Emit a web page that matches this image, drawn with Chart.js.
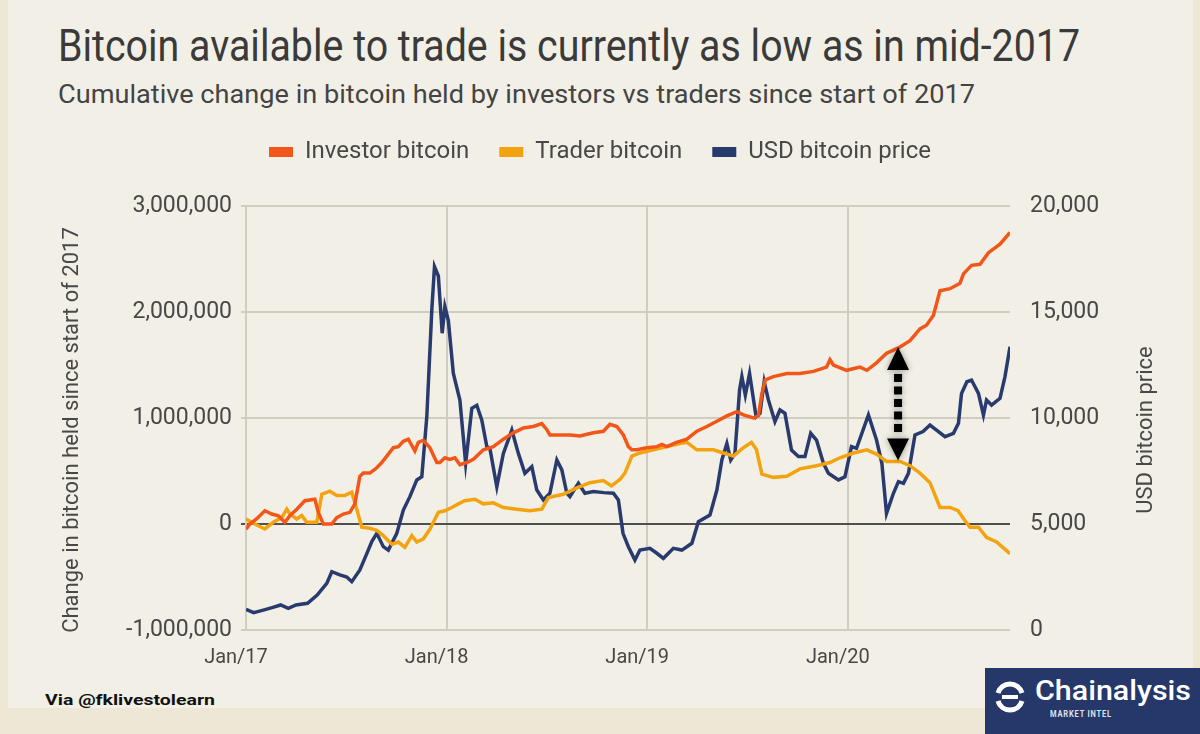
<!DOCTYPE html>
<html>
<head>
<meta charset="utf-8">
<script src="https://cdn.jsdelivr.net/npm/chart.js@4.4.0/dist/chart.umd.min.js"></script>
<style>
  html, body { margin: 0; padding: 0; }
  body { width: 1200px; height: 734px; background: #efe7d5; position: relative; overflow: hidden; font-family: Roboto, sans-serif; }
  #panel { position: absolute; left: 8px; top: 0; width: 1185px; height: 708px; background: #f2f0e6; }
  .fit { position: absolute; white-space: nowrap; display: inline-block; transform-origin: 0 0; }
  #title { left: 58px; top: 24px; font-size: 44px; line-height: 44px; color: #3a3a3a; }
  #subtitle { left: 58px; top: 82px; font-size: 25px; line-height: 25px; color: #444; }
  #via { left: 45px; top: 693px; font-size: 15px; line-height: 15px; font-weight: 700; color: #111; }
  #chart { position: absolute; left: 0; top: 110px; width: 1200px; height: 580px; }
  #logo { position: absolute; left: 985px; top: 668px; width: 215px; height: 66px; background: #26386a; }
  #logo svg { position: absolute; left: 8px; top: 12px; }
  #logoName { left: 50px; top: 9px; font-size: 28px; line-height: 28px; font-weight: 500; color: #fff; }
  #logoSub { left: 65px; top: 42px; font-size: 9px; line-height: 9px; font-weight: 700; color: #dfe3ee; letter-spacing: 1px; }
</style>
</head>
<body>
<div id="panel"></div>
<span id="title" class="fit">Bitcoin available to trade is currently as low as in mid-2017</span>
<span id="subtitle" class="fit">Cumulative change in bitcoin held by investors vs traders since start of 2017</span>
<canvas id="chart" width="1200" height="580"></canvas>
<span id="via" class="fit">Via @fklivestolearn</span>
<div id="logo">
  <svg width="34" height="34" viewBox="0 0 34 34">
    <g fill="none" stroke="#fff" stroke-width="5">
      <path d="M5 13 A12.5 12.5 0 0 1 29 13"/>
      <path d="M29 21 A12.5 12.5 0 0 1 5 21"/>
    </g>
    <path d="M9 17 L25 17" stroke="#fff" stroke-width="4"/>
  </svg>
  <span id="logoName" class="fit">Chainalysis</span>
  <span id="logoSub" class="fit">MARKET INTEL</span>
</div>
<script>
// x positions are weeks since 1 Jan 2017
const yearWeeks = [0, 52.14, 104.29, 156.43];
const yearLabels = ['Jan/17', 'Jan/18', 'Jan/19', 'Jan/20'];
const lastWeek = 198.6;

const investorWeeks = [
  0, 1, 2.8, 4.9, 6.7, 8.4, 10.1, 11.4, 13.2, 15.3,
  17.9, 18.8, 20.1, 22.3, 23.6, 25.3, 27, 28.3, 29.6, 30.5,
  32.2, 34, 35.3, 36.6, 38.3, 39.6, 40.9, 42.2, 43.9, 44.8,
  46.1, 47.8, 49.6, 50.4, 51.7, 53, 54.3, 55.6, 57.4, 59.1,
  61.7, 64.3, 66.9, 69.5, 72.1, 74.7, 76.9, 78.2, 79, 81.6,
  84.2, 86.8, 90.3, 92.9, 94.6, 96.4, 98.1, 99.4, 100.3, 101.6,
  104.2, 106.8, 108.1, 109.4, 111.9, 114.6, 117.2, 119.8, 122.4, 125,
  127.6, 129.3, 131.9, 133.2, 134.1, 135, 137.1, 140.6, 144, 147.5,
  150.9, 151.8, 152.7, 156.1, 159.6, 161.4, 163.9, 166.5, 168.3, 170,
  172.6, 175.2, 176.9, 178.7, 180.4, 183, 185.6, 186.5, 188.6, 190.8,
  193, 196, 198.6
];
const investorBtc = [
  -50000, 0, 50000, 125000, 94000, 78000, 16000, 78000, 140000, 220000,
  234000, 110000, 0, 0, 60000, 94000, 110000, 190000, 450000, 480000,
  480000, 530000, 580000, 640000, 720000, 730000, 780000, 800000, 690000, 770000,
  790000, 720000, 580000, 580000, 625000, 610000, 625000, 560000, 580000, 610000,
  700000, 730000, 800000, 860000, 906000, 920000, 947000, 890000, 840000, 840000,
  840000, 830000, 860000, 875000, 940000, 920000, 840000, 730000, 700000, 700000,
  720000, 730000, 750000, 730000, 770000, 800000, 875000, 920000, 970000, 1020000,
  1060000, 1030000, 1000000, 1020000, 1230000, 1360000, 1390000, 1420000, 1420000, 1440000,
  1480000, 1550000, 1500000, 1450000, 1480000, 1450000, 1520000, 1610000, 1640000, 1670000,
  1730000, 1840000, 1875000, 1970000, 2200000, 2220000, 2270000, 2360000, 2440000, 2450000,
  2560000, 2640000, 2750000
];

const traderWeeks = [
  0, 2.3, 4.9, 7.1, 9.3, 10.6, 11.4, 13.2, 14.5, 15.8,
  18.4, 19.7, 21.8, 23.6, 25.7, 27.5, 28.8, 30.1, 32.2, 34,
  35.7, 37.9, 39.6, 41.3, 43.1, 44.4, 46.1, 47.8, 50, 51.7,
  53.5, 55.2, 56.9, 59.5, 61.7, 64.3, 66.9, 70.4, 73.8, 76.9,
  78.6, 82.5, 86, 89.4, 92.9, 95, 97.2, 98.5, 100.3, 102.4,
  105.9, 109.4, 112.8, 114.6, 117.2, 121.5, 124.1, 126.7, 129.3, 131.4,
  132.7, 134.1, 137.1, 140.6, 144, 148.3, 151.8, 154.4, 157.9, 161.4,
  163.9, 166.5, 170, 172.6, 175.2, 177.8, 180.4, 183, 185.1, 186.9,
  188.2, 190.4, 192.5, 195.1, 198.6
];
const traderBtc = [
  47000, 0, -47000, 16000, 60000, 140000, 94000, 47000, 80000, 16000,
  16000, 280000, 310000, 270000, 270000, 300000, 140000, -30000, -40000, -60000,
  -110000, -190000, -170000, -220000, -110000, -170000, -140000, -50000, 110000, 125000,
  156000, 190000, 220000, 234000, 190000, 200000, 156000, 140000, 125000, 140000,
  250000, 280000, 340000, 390000, 410000, 360000, 420000, 480000, 640000, 670000,
  700000, 730000, 760000, 770000, 700000, 700000, 670000, 640000, 720000, 770000,
  700000, 470000, 440000, 450000, 520000, 550000, 580000, 625000, 670000, 700000,
  660000, 590000, 590000, 550000, 480000, 390000, 156000, 156000, 125000, 30000,
  -30000, -30000, -125000, -170000, -280000
];

const priceWeeks = [
  0, 2, 4.5, 7, 9, 11, 13, 16, 18.5, 21,
  22.3, 24.4, 26.2, 27.5, 29.6, 31.4, 32.7, 34, 35.7, 37,
  39.2, 40.9, 42.6, 44.4, 45.7, 47, 48.3, 49, 50, 51,
  51.7, 52.6, 53.9, 55.6, 57.1, 58.7, 60, 61.3, 62.6, 63.4,
  65.2, 66.9, 69.1, 70.8, 72.5, 74.3, 75.6, 77.3, 79, 80.8,
  82.1, 83.4, 84.2, 86.4, 88.1, 90.3, 93, 95.5, 96.8, 98,
  99.4, 101.1, 102.4, 105, 106.8, 108.5, 111.1, 113.3, 115.9, 117.6,
  120.6, 122.4, 123.7, 125, 126, 127.1, 128.3, 128.9, 129.8, 130.9,
  132.6, 133.6, 134.7, 135.8, 137.5, 138.8, 140.1, 141.8, 143.6, 145.3,
  146.8, 148.3, 150.1, 151.4, 154, 155.7, 157.4, 158.7, 161.8, 163.9,
  165.3, 166.5, 168.3, 169.6, 170.9, 172.2, 173.9, 176, 177.8, 179.5,
  181.7, 183.9, 185.2, 186, 187.4, 188.6, 190.4, 191.7, 192.5, 193.8,
  196, 197.3, 198.6
];
const priceUsd = [
  970, 820, 940, 1070, 1180, 1020, 1180, 1260, 1650, 2200,
  2750, 2600, 2500, 2280, 2830, 3600, 4170, 4560, 3930, 3770,
  4560, 5660, 6290, 7080, 7230, 10060, 15100, 17140, 16700, 14000,
  15250, 14600, 12100, 10850, 7860, 10460, 10600, 9900, 8650, 8570,
  6760, 8330, 9430, 8330, 7390, 7700, 6600, 6130, 6450, 8020,
  7550, 6450, 6290, 6920, 6450, 6530, 6480, 6450, 6130, 4560,
  3930, 3300, 3770, 3850, 3620, 3380, 3850, 3770, 4090, 5110,
  5420, 6600, 8020, 8800, 8020, 8330, 11320, 11950, 11080, 12100,
  10060, 10220, 11710, 10850, 9830, 10380, 10220, 8490, 8180, 8180,
  9280, 8960, 7860, 7390, 7080, 7230, 8650, 8570, 10140, 8960,
  7860, 5500, 6450, 7000, 6920, 7390, 9200, 9360, 9670, 9430,
  9120, 9280, 9750, 11160, 11710, 11790, 11160, 10140, 10850, 10610,
  10930, 11950, 13360
];

// annotation arrow (week, left-axis values)
const arrowWeek = 169.5;
const arrowTop = 1670000;
const arrowBottom = 600000;

const GRID = '#cfccc1';
const TEXT = '#484848';

function points(xs, ys) {
  return xs.map((x, i) => ({ x: x, y: ys[i] }));
}

function fitWidth(id, target) {
  const el = document.getElementById(id);
  const w = el.getBoundingClientRect().width;
  el.style.transform = 'scaleX(' + (target / w) + ')';
}
fitWidth('title', 1022);
fitWidth('subtitle', 917);
fitWidth('via', 170);
fitWidth('logoName', 156);
fitWidth('logoSub', 62);

const extras = {
  id: 'extras',
  beforeUpdate(chart) {
    const legend = chart.legend;
    if (legend && !legend._patched) {
      const fit = legend.fit;
      legend.fit = function () {
        fit.call(this);
        this.height += 32;
      };
      legend._patched = true;
    }
  },
  afterDatasetsDraw(chart) {
    const ctx = chart.ctx;
    const x = chart.scales.x.getPixelForValue(arrowWeek);
    const yTop = chart.scales.y.getPixelForValue(arrowTop);
    const yBot = chart.scales.y.getPixelForValue(arrowBottom);
    ctx.save();
    ctx.shadowColor = 'rgba(0,0,0,0.4)';
    ctx.shadowBlur = 6;
    ctx.fillStyle = '#000';
    ctx.beginPath();
    ctx.moveTo(x, yTop);
    ctx.lineTo(x + 11, yTop + 23);
    ctx.lineTo(x - 11, yTop + 23);
    ctx.closePath();
    ctx.fill();
    ctx.beginPath();
    ctx.moveTo(x, yBot);
    ctx.lineTo(x + 11, yBot - 22);
    ctx.lineTo(x - 11, yBot - 22);
    ctx.closePath();
    ctx.fill();
    for (let y = yTop + 27; y + 8 <= yBot - 24; y += 12.5) {
      ctx.fillRect(x - 4, y, 8, 8);
    }
    ctx.restore();
  },
  afterDraw(chart) {
    const ctx = chart.ctx;
    ctx.save();
    ctx.font = '22px Roboto';
    ctx.fillStyle = TEXT;
    ctx.textAlign = 'center';
    ctx.textBaseline = 'middle';
    [[72, 'Change in bitcoin held since start of 2017'], [1146, 'USD bitcoin price']].forEach(([x, text]) => {
      ctx.save();
      ctx.translate(x, 320);
      ctx.rotate(-Math.PI / 2);
      ctx.fillText(text, 0, 0);
      ctx.restore();
    });
    ctx.restore();
  }
};

new Chart(document.getElementById('chart'), {
  type: 'line',
  data: {
    datasets: [
      {
        label: 'Investor bitcoin',
        data: points(investorWeeks, investorBtc),
        borderColor: '#f25619',
        backgroundColor: '#f25619',
        yAxisID: 'y'
      },
      {
        label: 'Trader bitcoin',
        data: points(traderWeeks, traderBtc),
        borderColor: '#f2a30f',
        backgroundColor: '#f2a30f',
        yAxisID: 'y'
      },
      {
        label: 'USD bitcoin price',
        data: points(priceWeeks, priceUsd),
        borderColor: '#283a6e',
        backgroundColor: '#283a6e',
        yAxisID: 'y1'
      }
    ]
  },
  options: {
    responsive: false,
    animation: false,
    layout: { padding: { top: 0, left: 0, right: 0, bottom: 0 } },
    elements: {
      line: { borderWidth: 3.5, tension: 0 },
      point: { radius: 0 }
    },
    plugins: {
      tooltip: { enabled: false },
      legend: {
        position: 'top',
        labels: {
          boxWidth: 24,
          boxHeight: 10,
          padding: 30,
          color: TEXT,
          font: { family: 'Roboto', size: 24 },
          generateLabels(chart) {
            const items = Chart.defaults.plugins.legend.labels.generateLabels(chart);
            items.forEach(it => { it.lineWidth = 0; it.fillStyle = it.strokeStyle; });
            return items;
          }
        }
      }
    },
    scales: {
      x: {
        type: 'linear',
        min: 0,
        max: lastWeek,
        afterBuildTicks(scale) {
          scale.ticks = yearWeeks.map(v => ({ value: v }));
        },
        afterFit(scale) { scale.height = 60; },
        grid: { color: GRID, lineWidth: 2, drawTicks: false },
        border: { display: false },
        ticks: {
          autoSkip: false,
          maxRotation: 0,
          padding: 16,
          labelOffset: -10,
          color: TEXT,
          font: { family: 'Roboto', size: 20 },
          callback: (value, index) => yearLabels[index]
        }
      },
      y: {
        position: 'left',
        min: -1000000,
        max: 3000000,
        afterFit(scale) { scale.width = 246; },
        grid: {
          lineWidth: 2,
          tickLength: 5,
          color: ctx => (ctx.tick && ctx.tick.value === 0 ? '#4f4f4f' : GRID)
        },
        border: { display: true, color: GRID, width: 2 },
        ticks: {
          stepSize: 1000000,
          padding: 9,
          color: TEXT,
          font: { family: 'Roboto', size: 23 },
          callback: v => v.toLocaleString('en-US')
        }
      },
      y1: {
        position: 'right',
        min: 0,
        max: 20000,
        afterFit(scale) { scale.width = 190; },
        grid: { display: false },
        border: { display: false },
        ticks: {
          stepSize: 5000,
          padding: 12,
          color: TEXT,
          font: { family: 'Roboto', size: 23 },
          callback: v => v.toLocaleString('en-US')
        }
      }
    }
  },
  plugins: [extras]
});
</script>
</body>
</html>
